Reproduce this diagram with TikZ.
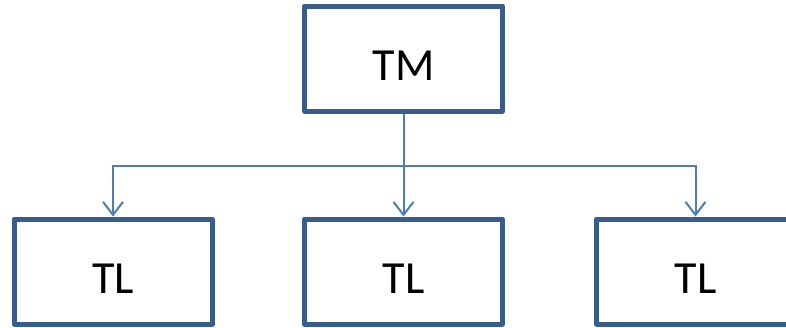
\documentclass[tikz,border=0pt]{standalone}
\usepackage{fontspec}
\setmainfont{Carlito}
\usetikzlibrary{arrows.meta}
\definecolor{boxblue}{HTML}{385D8A}
\definecolor{linkblue}{HTML}{4A7EBB}
\tikzset{
  rolebox/.style={draw=boxblue, line width=5pt, line join=round, fill=white,
    minimum width=198pt, minimum height=105pt, inner sep=0pt,
    font=\fontsize{46}{50}\selectfont, text height=43pt, text depth=0pt},
  link/.style={draw=linkblue, line width=2pt},
  linkarrow/.style={link, -{Straight Barb[length=13pt,width=20pt,line width=2pt]}}
}
\begin{document}
\begin{tikzpicture}[x=1pt,y=-1pt]
  \useasboundingbox (0,0) rectangle (786,327);
  \node[rolebox] (tm) at (403.5,58.5) {TM};
  \node[rolebox] (tl1) at (113,271.5) {TL};
  \node[rolebox] (tl2) at (403.5,271.5) {TL};
  \node[rolebox] (tl3) at (695.5,271.5) {TL};
  \coordinate (j) at (403.5,166);
  \draw[link] (tm.south) -- (j);
  \draw[linkarrow] (j) -| (tl1.north);
  \draw[linkarrow] (j) -- (tl2.north);
  \draw[linkarrow] (j) -| (tl3.north);
\end{tikzpicture}
\end{document}
